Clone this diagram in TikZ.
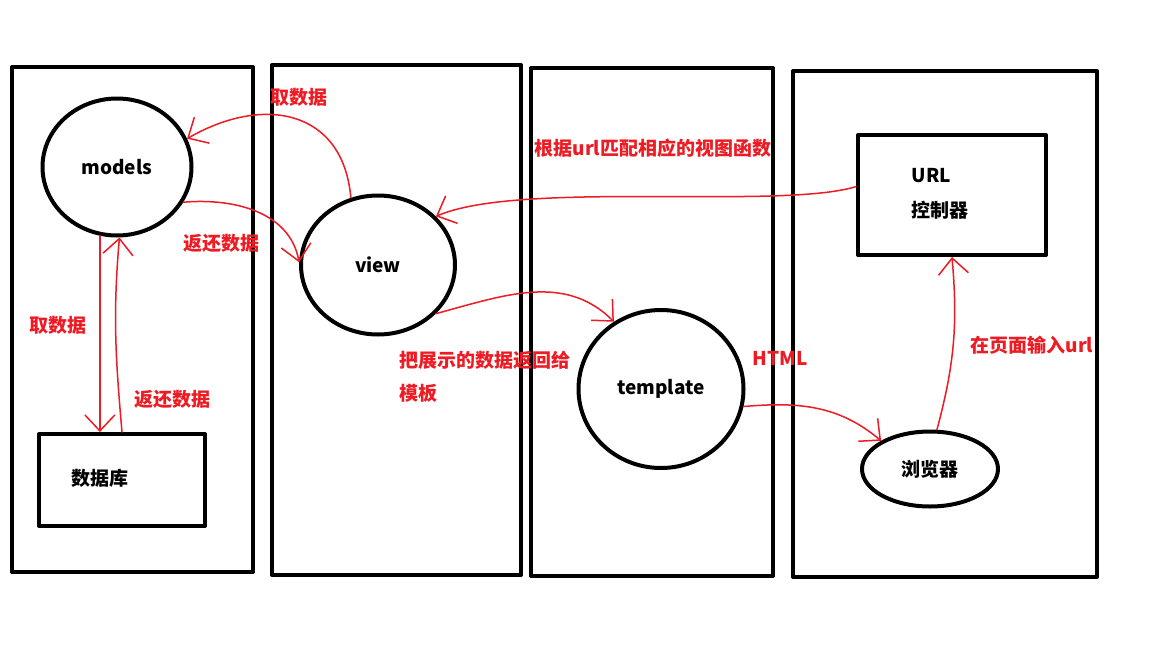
\documentclass[tikz,border=0pt]{standalone}
\usepackage{fontspec}
\setmainfont{Noto Sans CJK SC}
\usetikzlibrary{arrows.meta,shapes.geometric}
\definecolor{pen}{rgb}{0.93,0.11,0.14}
\tikzset{
    panel/.style = {line width=4pt},
    blob/.style = {draw, ellipse, line width=4pt, inner sep=0pt, font=\bfseries\fontsize{19}{22}\selectfont},
    boxnode/.style = {draw, rectangle, line width=4pt, inner sep=0pt},
    word/.style = {font=\bfseries\fontsize{19}{22}\selectfont},
    tag/.style = {text=pen, font=\bfseries\fontsize{19}{22}\selectfont},
    flow/.style = {draw=pen, line width=1.5pt, line cap=round, -{Straight Barb[length=16pt,width=30pt]}}
}

\begin{document}
\begin{tikzpicture}[x=1pt,y=-1pt,line join=round]
\useasboundingbox[fill=white] (0,0) rectangle (1152,648);
\draw [panel] (12,67) rectangle (253,572);
\draw [panel] (272,65) rectangle (521,575);
\draw [panel] (531,68) rectangle (773,576);
\draw [panel] (793,71) rectangle (1097,577);

\node [blob, minimum width=149pt, minimum height=137pt] (models) at (117,167) {models};
\node [blob, minimum width=154pt, minimum height=139pt] (view) at (378,265) {view};
\node [blob, minimum width=165pt, minimum height=158pt] (tpl) at (661,389) {template};
\node [blob, minimum width=136pt, minimum height=75pt] (browser) at (930,469) {浏览器};
\node [boxnode, minimum width=166pt, minimum height=92pt] (db) at (122,480) {};
\node [word] (dbtxt) at (100,478) {数据库};
\node [boxnode, minimum width=188pt, minimum height=120pt] (url) at (952,195) {};
\node [word, anchor=west] (urltxt) at (908,176) {URL};
\node [word, anchor=west] (ctrltxt) at (908,210) {控制器};

\node [tag] (getA) at (299,97) {取数据};
\node [tag] (retA) at (221,243) {返还数据};
\node [tag] (getB) at (58,325) {取数据};
\node [tag] (retB) at (172,399) {返还数据};
\node [tag] (match) at (653,148) {根据url匹配相应的视图函数};
\node [tag, anchor=west] (pass) at (396,360) {把展示的数据返回给};
\node [tag, anchor=west] (passb) at (396,393) {模板};
\node [tag] (html) at (780,358) {HTML};
\node [tag] (typeurl) at (1032,345) {在页面输入url};

\draw [flow] (view.112) to[out=95,in=30,looseness=1.3] (models.22);
\draw [flow] (models.-28) to[out=5,in=100] (view.178);
\draw [flow] (models.-104) -- (models.-104 |- db.north);
\draw [flow] (db.north) to[out=95,in=-95] (models.-88);
\draw [flow] (url.175) .. controls (780,210) and (520,180) .. (view.40);
\draw [flow] (view.-40) to[out=15,in=135] (tpl.125);
\draw [flow] (tpl.-12) to[out=5,in=140] (browser.150);
\draw [flow] (browser.80) to[out=75,in=-85] (url.south);
\end{tikzpicture}
\end{document}
